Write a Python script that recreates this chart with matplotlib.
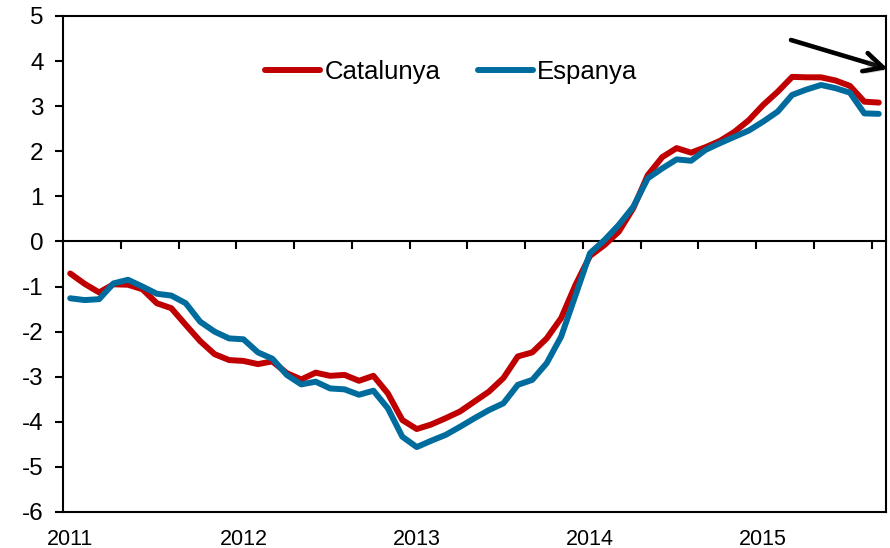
import numpy as np
import matplotlib
matplotlib.use('Agg')
import matplotlib.pyplot as plt
import matplotlib.patheffects as pe

plt.rcParams['font.family'] = ['Liberation Sans', 'DejaVu Sans']
plt.rcParams['axes.unicode_minus'] = False

# monthly values, Jan 2011 - Sep 2015
catalunya = [-0.71, -0.94, -1.13, -0.95, -0.96, -1.06, -1.37, -1.48, -1.85, -2.21,
             -2.50, -2.63, -2.65, -2.72, -2.66, -2.92, -3.06, -2.91, -2.98, -2.96,
             -3.09, -2.98, -3.37, -3.96, -4.16, -4.06, -3.92, -3.77, -3.55, -3.33,
             -3.03, -2.55, -2.46, -2.15, -1.70, -0.96, -0.32, -0.08, 0.22, 0.74,
             1.47, 1.87, 2.07, 1.97, 2.09, 2.23, 2.43, 2.69, 3.03, 3.32,
             3.65, 3.64, 3.64, 3.57, 3.45, 3.10, 3.08]
espanya = [-1.26, -1.30, -1.28, -0.93, -0.85, -1.00, -1.16, -1.20, -1.37, -1.78,
           -2.00, -2.15, -2.17, -2.46, -2.60, -2.96, -3.17, -3.11, -3.26, -3.28,
           -3.40, -3.31, -3.70, -4.33, -4.56, -4.42, -4.29, -4.11, -3.92, -3.74,
           -3.59, -3.18, -3.07, -2.70, -2.11, -1.19, -0.26, 0.03, 0.37, 0.77,
           1.40, 1.62, 1.82, 1.79, 2.03, 2.18, 2.32, 2.46, 2.66, 2.88,
           3.25, 3.37, 3.47, 3.40, 3.30, 2.84, 2.83]
years = ['2011', '2012', '2013', '2014', '2015']

x = np.arange(len(catalunya))

fig = plt.figure(figsize=(8.9, 5.48), dpi=100)
ax = fig.add_axes([63 / 890, 1 - 512 / 548, (886 - 63) / 890, (512 - 16) / 548])

ax.plot(x, catalunya, color='#C00000', lw=4.3, label='Catalunya', solid_capstyle='round')
ax.plot(x, espanya, color='#006C9E', lw=4.3, label='Espanya', solid_capstyle='round')

ax.set_xlim(-0.5, len(x) - 0.5)
ax.set_ylim(-6, 5)
ax.set_yticks(range(-6, 6))
ax.tick_params(axis='y', direction='out', length=6, width=1.5, labelsize=17.5, pad=8)

ax.set_xticks([12 * i for i in range(len(years))])
ax.set_xticklabels(years)
ax.tick_params(axis='x', length=0, labelsize=15.5, pad=12)

for s in ax.spines.values():
    s.set_linewidth(1.5)

# zero line with tick marks every 4 months
zero_ax = ax.secondary_xaxis(6 / 11)
zero_ax.set_alignment('bottom')
zero_ax.set_xticks(np.arange(3.5, len(x), 4))
zero_ax.tick_params(direction='out', length=6, width=1.5,
                    labelbottom=False, labeltop=False)
zero_ax.spines['bottom'].set_linewidth(1.5)

ax.legend(loc='center', bbox_to_anchor=(0.507, 1 - 72 / 548), bbox_transform=fig.transFigure,
          ncol=2, frameon=False, fontsize=18.5, handlelength=2.15, handletextpad=0.16,
          columnspacing=1.45)

ax.annotate('', xy=(888 / 890, 1 - 69 / 548), xytext=(791 / 890, 1 - 40 / 548),
            xycoords='figure fraction', textcoords='figure fraction',
            arrowprops=dict(arrowstyle='->', lw=3.3, color='black', mutation_scale=34,
                            shrinkA=0, shrinkB=0,
                            path_effects=[pe.SimplePatchShadow(offset=(2, -2), alpha=0.25),
                                          pe.Normal()]))

plt.savefig('out.png', dpi=100)
